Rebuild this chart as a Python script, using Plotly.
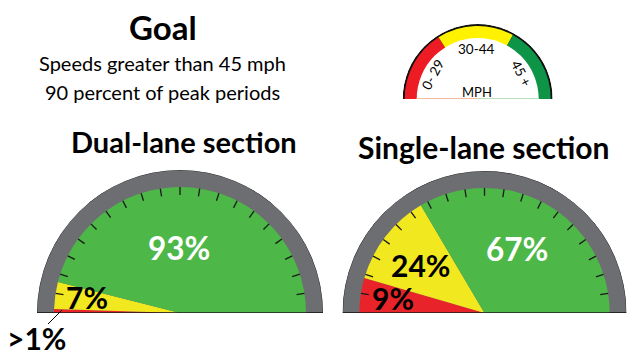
import plotly.graph_objects as go

# ---------------- data ----------------
band_names = ["0-29 mph", "30-44 mph", "45+ mph"]
band_colors = ["#E8242A", "#F2E81F", "#4DB748"]

dual_values = [1, 7, 93]          # percent of peak periods
dual_labels = [">1%", "7%", "93%"]

single_values = [9, 24, 67]
single_labels = ["9%", "24%", "67%"]

legend_labels = ["0- 29", "30-44", "45 +"]
legend_share = [32, 34, 34]        # share of legend dial per band
legend_colors = ["#ED1C24", "#FFF200", "#0E9447"]

tick_angles = list(range(9, 180, 9))

W, H = 640, 359
FONT = "Lato"


def dom_x(cx, r):
    return [(cx - r) / W, (cx + r) / W]


def dom_y(cy, r):
    return [(H - cy) / H, (H - cy + r) / H]


def wedges(values):
    tot = sum(values)
    widths = [v / tot * 180 for v in values]
    centers, acc = [], 0
    for w in widths:
        centers.append(acc + w / 2)
        acc += w
    return centers, widths


fig = go.Figure()

R_OUT, R_IN, R_TICK = 143, 126, 118


def add_gauge(sub, values):
    # gray rim
    fig.add_trace(go.Barpolar(r=[R_OUT], theta=[90], width=[180], base=0,
                              marker=dict(color="#6D6E71", line=dict(color="#2b2b2b", width=1)),
                              subplot=sub, showlegend=False, hoverinfo="skip"))
    c, w = wedges(values)
    fig.add_trace(go.Barpolar(r=[R_IN] * len(values), theta=c, width=w, base=0,
                              marker=dict(color=band_colors, line=dict(width=0)),
                              subplot=sub, showlegend=False, hoverinfo="skip"))
    rr, tt = [], []
    for a in tick_angles:
        rr += [R_TICK, R_IN, None]
        tt += [a, a, None]
    fig.add_trace(go.Scatterpolar(r=rr, theta=tt, mode="lines",
                                  line=dict(color="#1a1a1a", width=1.3),
                                  subplot=sub, showlegend=False, hoverinfo="skip"))
    fig.add_trace(go.Scatterpolar(r=[R_OUT, 0, R_OUT], theta=[0, 0, 180], mode="lines",
                                  line=dict(color="#1a1a1a", width=1.5),
                                  subplot=sub, showlegend=False, hoverinfo="skip"))


add_gauge("polar", dual_values)
add_gauge("polar2", single_values)

# legend dial
LR_OUT, LR_IN = 75, 61
fig.add_trace(go.Barpolar(r=[LR_OUT], theta=[90], width=[180], base=0,
                          marker=dict(color="#111111", line=dict(width=0)),
                          subplot="polar3", showlegend=False, hoverinfo="skip"))
c, w = wedges(legend_share)
fig.add_trace(go.Barpolar(r=[LR_OUT - 2] * 3, theta=c, width=w, base=0,
                          marker=dict(color=legend_colors, line=dict(width=0)),
                          subplot="polar3", showlegend=False, hoverinfo="skip"))
fig.add_trace(go.Barpolar(r=[LR_IN], theta=[90], width=[180], base=0,
                          marker=dict(color="white", line=dict(width=0)),
                          subplot="polar3", showlegend=False, hoverinfo="skip"))
fig.add_trace(go.Scatterpolar(r=[LR_IN, 0], theta=[0, 0], mode="lines",
                              line=dict(color="#F7B8A2", width=2),
                              subplot="polar3", showlegend=False, hoverinfo="skip"))
fig.add_trace(go.Scatterpolar(r=[0, LR_IN], theta=[180, 180], mode="lines",
                              line=dict(color="#B9DFBC", width=2),
                              subplot="polar3", showlegend=False, hoverinfo="skip"))

polar_common = dict(
    sector=[0, 180], bgcolor="rgba(0,0,0,0)", bargap=0, hole=0,
    angularaxis=dict(visible=False, rotation=180, direction="clockwise",
                     showgrid=False, showline=False, ticks=""),
)

fig.update_layout(
    width=W, height=H, margin=dict(l=0, r=0, t=0, b=0),
    paper_bgcolor="white", plot_bgcolor="white", showlegend=False,
    polar=dict(domain=dict(x=dom_x(180, R_OUT), y=dom_y(313, R_OUT)),
               radialaxis=dict(visible=False, range=[0, R_OUT], showgrid=False), **polar_common),
    polar2=dict(domain=dict(x=dom_x(484.5, 142), y=dom_y(313, 142)),
                radialaxis=dict(visible=False, range=[0, R_OUT], showgrid=False), **polar_common),
    polar3=dict(domain=dict(x=dom_x(477.7, 75), y=dom_y(99, 75)),
                radialaxis=dict(visible=False, range=[0, LR_OUT], showgrid=False), **polar_common),
)


def ann(text, x, y, size, color="black", bold=False, angle=0):
    fig.add_annotation(text=f"<b>{text}</b>" if bold else text,
                       x=x / W, y=1 - y / H, xref="paper", yref="paper",
                       xanchor="center", yanchor="middle", showarrow=False,
                       textangle=angle,
                       font=dict(family=FONT, size=size, color=color))


ann("Goal", 162.5, 27, 33, bold=True)
ann("Speeds greater than 45 mph", 162.5, 63, 20)
ann("90 percent of peak periods", 162.5, 92, 20)
ann("Dual-lane section", 184, 141, 29, bold=True)
ann("Single-lane section", 483.5, 147, 30, bold=True)

# legend dial labels
ann(legend_labels[1], 476.7, 49, 13.5)
ann(legend_labels[0], 432.5, 75, 13.5, angle=-62)
ann(legend_labels[2], 521, 73, 13.5, angle=62)
ann("MPH", 476.7, 92, 13)

# gauge percent labels
ann(dual_labels[2], 179, 248, 31.5, color="white", bold=True)
ann(dual_labels[1], 87, 297, 30, bold=True)
ann(dual_labels[0], 36.5, 338, 30, bold=True)
ann(single_labels[2], 517, 249, 31.5, color="white", bold=True)
ann(single_labels[1], 420, 265, 30, bold=True)
ann(single_labels[0], 393, 298, 30, bold=True)

# leader line for the >1% label
fig.add_shape(type="line", xref="paper", yref="paper",
              x0=48 / W, y0=1 - 324 / H, x1=62 / W, y1=1 - 310 / H,
              line=dict(color="black", width=1))

fig.write_html("out.html")
